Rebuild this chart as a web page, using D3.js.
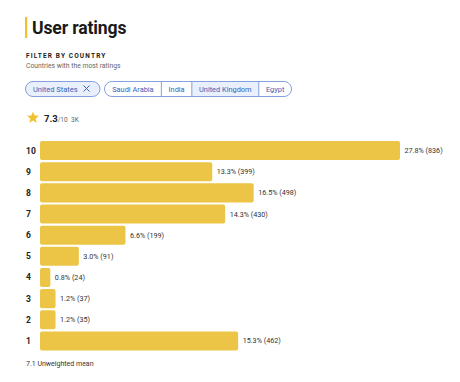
<!DOCTYPE html>
<html>
<head>
<meta charset="utf-8">
<script src="https://cdn.jsdelivr.net/npm/d3@7"></script>
<style>
  html, body { margin: 0; padding: 0; background: #fff; }
  svg { display: block; font-family: Roboto, "Noto Sans", sans-serif; }
</style>
</head>
<body>
<svg id="chart" width="460" height="382"></svg>
<script>
// ratings, top to bottom
var ratings = ["10", "9", "8", "7", "6", "5", "4", "3", "2", "1"];
var percents = [27.8, 13.3, 16.5, 14.3, 6.6, 3.0, 0.8, 1.2, 1.2, 15.3];
var counts = [836, 399, 498, 430, 199, 91, 24, 37, 35, 462];
var countries = ["Saudi Arabia", "India", "United Kingdom", "Egypt"];
var selectedCountry = "United States";
var meanRating = "7.3";
var totalRatings = "3K";
var unweightedMean = "7.1";

var svg = d3.select("#chart");
var yellow = "#ecc546";
var blue = "#3a62b8";
var chipBorder = "#84a1de";

// title
svg.append("rect").attr("x", 25).attr("y", 17).attr("width", 2.2).attr("height", 21).attr("fill", "#f0c030");
svg.append("text")
    .attr("x", 32).attr("y", 33.5)
    .attr("font-size", 17.6).attr("font-weight", 700).attr("letter-spacing", -0.15).attr("fill", "#1a1a1a")
    .text("User ratings");

svg.append("text")
    .attr("x", 26).attr("y", 57.5)
    .attr("font-size", 6.5).attr("font-weight", 700).attr("letter-spacing", 1.15).attr("fill", "#222")
    .text("FILTER BY COUNTRY");
svg.append("text")
    .attr("x", 26).attr("y", 67.5)
    .attr("font-size", 6.8).attr("fill", "#666")
    .text("Countries with the most ratings");

// selected chip
var chip = svg.append("g");
chip.append("rect")
    .attr("x", 25.5).attr("y", 81.5).attr("width", 74.5).attr("height", 15).attr("rx", 7.5)
    .attr("fill", "#e9effb").attr("stroke", chipBorder).attr("stroke-width", 1);
chip.append("text")
    .attr("x", 33).attr("y", 91.6)
    .attr("font-size", 7.5).attr("fill", blue)
    .text(selectedCountry);
chip.append("path")
    .attr("d", "M83.5,85.5L89.5,91.5M89.5,85.5L83.5,91.5")
    .attr("stroke", blue).attr("stroke-width", 1);

// segmented country group
var seg = svg.append("g");
var segX = 104.5, segPad = 7.2;
var segs = [];
countries.forEach(function (c, i) {
    var t = seg.append("text").attr("font-size", 7.4).attr("fill", blue).text(c);
    var w = t.node().getComputedTextLength() + segPad * 2 + (i === 0 ? 1 : 0);
    segs.push({name: c, x: segX, w: w, t: t});
    segX += w;
});
var segEnd = segX;
// outline path with rounded ends
var r = 7.5, y0 = 81.5, y1 = 96.5;
seg.insert("path", "text")
    .attr("d", "M" + (104.5 + r) + "," + y0 + "H" + (segEnd - r) +
        "A" + r + "," + r + " 0 0 1 " + (segEnd - r) + "," + y1 +
        "H" + (104.5 + r) + "A" + r + "," + r + " 0 0 1 " + (104.5 + r) + "," + y0 + "Z")
    .attr("fill", "#fff").attr("stroke", chipBorder).attr("stroke-width", 1);
segs.forEach(function (s, i) {
    if (s.name === "United Kingdom") {
        seg.insert("rect", "text")
            .attr("x", s.x).attr("y", y0 + 0.5).attr("width", s.w).attr("height", y1 - y0 - 1)
            .attr("fill", "#e9effb");
    }
    if (i > 0) {
        seg.insert("line", "text")
            .attr("x1", s.x).attr("x2", s.x).attr("y1", y0).attr("y2", y1)
            .attr("stroke", chipBorder).attr("stroke-width", 1);
    }
    s.t.attr("x", s.x + s.w / 2).attr("y", 91.6).attr("text-anchor", "middle");
});

// star + mean
var star = d3.range(10).map(function (i) {
    var a = -Math.PI / 2 + i * Math.PI / 5;
    var rr = i % 2 === 0 ? 6.3 : 2.7;
    return [33 + rr * Math.cos(a), 117.8 + rr * Math.sin(a)];
});
svg.append("path").attr("d", d3.line()(star) + "Z").attr("fill", "#f2c12e");
var meanText = svg.append("text").attr("x", 44).attr("y", 121.5).attr("fill", "#222");
meanText.append("tspan").attr("font-size", 9.5).attr("font-weight", 700).text(meanRating);
meanText.append("tspan").attr("font-size", 6.5).attr("fill", "#666").text("/10");
svg.append("text").attr("x", 71).attr("y", 121.5)
    .attr("font-size", 6.5).attr("fill", "#666").text(totalRatings);

// bars
var x = d3.scaleLinear().domain([0, d3.max(percents)]).range([40, 400]);
var y = d3.scaleBand().domain(ratings).range([140, 351.5]).paddingInner(0.1).paddingOuter(0.05);

var rows = svg.append("g").selectAll("g")
    .data(ratings.map(function (r, i) { return {r: r, p: percents[i], n: counts[i]}; }))
    .enter().append("g");

rows.append("rect")
    .attr("x", x(0))
    .attr("y", d => y(d.r))
    .attr("width", d => x(d.p) - x(0))
    .attr("height", y.bandwidth())
    .attr("rx", 2)
    .attr("fill", yellow);

rows.append("text")
    .attr("x", 26)
    .attr("y", d => y(d.r) + y.bandwidth() / 2)
    .attr("dy", "0.35em")
    .attr("font-size", 8.5).attr("font-weight", 700).attr("fill", "#222")
    .text(d => d.r);

rows.append("text")
    .attr("x", d => x(d.p) + 4.5)
    .attr("y", d => y(d.r) + y.bandwidth() / 2)
    .attr("dy", "0.35em")
    .attr("font-size", 7.2).attr("fill", "#333")
    .text(d => d.p.toFixed(1) + "% (" + d.n + ")");

svg.append("text")
    .attr("x", 26).attr("y", 365.5)
    .attr("font-size", 7).attr("fill", "#333")
    .text(unweightedMean + " Unweighted mean");
</script>
</body>
</html>
